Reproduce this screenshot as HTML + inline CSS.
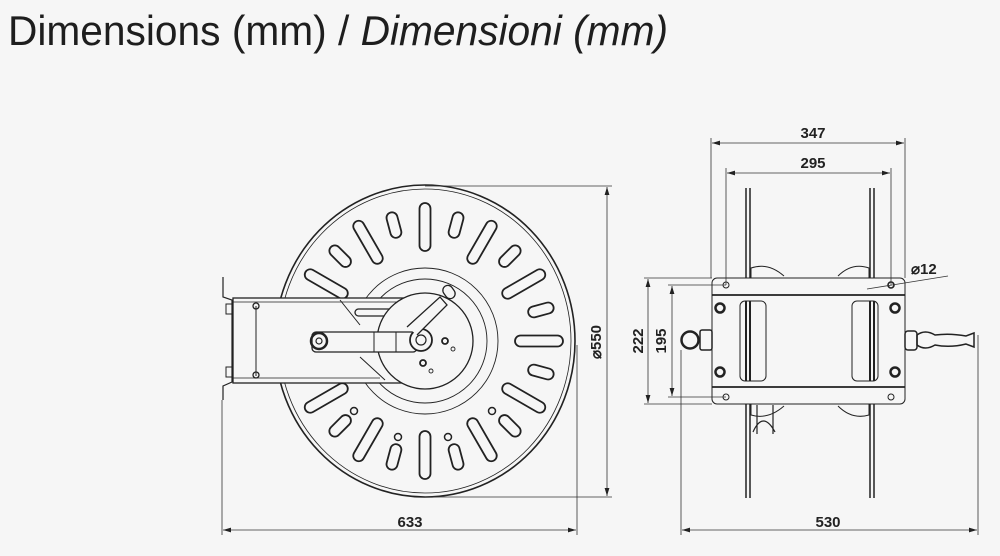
<!DOCTYPE html>
<html><head><meta charset="utf-8"><style>
html,body{margin:0;padding:0;background:#f6f6f6;}
svg{display:block;}
</style></head><body>
<svg width="1000" height="556" viewBox="0 0 1000 556" xmlns="http://www.w3.org/2000/svg">
<rect width="1000" height="556" fill="#f6f6f6"/>
<text x="8" y="45" font-family="Liberation Sans, sans-serif" font-size="42" fill="#1e1e1e" textLength="660" lengthAdjust="spacingAndGlyphs">Dimensions (mm) / <tspan font-style="italic">Dimensioni (mm)</tspan></text>

<defs>
<marker id="ar" viewBox="0 0 10 6" refX="10" refY="3" markerWidth="8" markerHeight="5" orient="auto-start-reverse" markerUnits="userSpaceOnUse"><path d="M0,0 L10,3 L0,6 z" fill="#222"/></marker>
<rect id="L" x="419.5" y="203" width="11" height="48" rx="5.5"/>
<rect id="S" x="419.5" y="208" width="11" height="26" rx="5.5"/>
</defs>

<!-- LEFT VIEW -->
<g stroke="#222" fill="none">
<ellipse cx="425" cy="341" rx="150" ry="156" stroke-width="1.6"/>
<ellipse cx="425" cy="341" rx="146" ry="152" stroke-width="0.8"/>
<g stroke-width="1.8" fill="#f6f6f6">
<use href="#L" transform="rotate(0 425 341)"/>
<use href="#S" transform="rotate(15 425 341)"/>
<use href="#L" transform="rotate(30 425 341)"/>
<use href="#S" transform="rotate(45 425 341)"/>
<use href="#L" transform="rotate(60 425 341)"/>
<use href="#S" transform="rotate(75 425 341)"/>
<use href="#L" transform="rotate(90 425 341)"/>
<use href="#S" transform="rotate(105 425 341)"/>
<use href="#L" transform="rotate(120 425 341)"/>
<use href="#S" transform="rotate(135 425 341)"/>
<use href="#L" transform="rotate(150 425 341)"/>
<use href="#S" transform="rotate(165 425 341)"/>
<use href="#L" transform="rotate(180 425 341)"/>
<use href="#S" transform="rotate(195 425 341)"/>
<use href="#L" transform="rotate(210 425 341)"/>
<use href="#S" transform="rotate(225 425 341)"/>
<use href="#L" transform="rotate(240 425 341)"/>
<use href="#S" transform="rotate(255 425 341)"/>
<use href="#L" transform="rotate(270 425 341)"/>
<use href="#S" transform="rotate(285 425 341)"/>
<use href="#L" transform="rotate(300 425 341)"/>
<use href="#S" transform="rotate(315 425 341)"/>
<use href="#L" transform="rotate(330 425 341)"/>
<use href="#S" transform="rotate(345 425 341)"/>
</g>
<g stroke-width="1.5"><circle cx="354" cy="411" r="3.5"/><circle cx="492" cy="411" r="3.5"/><circle cx="398" cy="437" r="3.5"/><circle cx="448" cy="437" r="3.5"/></g>
<circle cx="425" cy="341" r="73" stroke-width="0.9" fill="#f6f6f6"/>
<circle cx="425" cy="341" r="62" stroke-width="0.9"/>
<!-- bracket -->
<path d="M223,277 V297 L232,300 V382 L223,386 V400" stroke-width="1.2"/>
<rect x="233" y="298" width="190" height="85" fill="#f6f6f6" stroke-width="1.3"/>
<line x1="233" y1="302" x2="410" y2="302" stroke-width="0.8"/>
<line x1="233" y1="378" x2="380" y2="378" stroke-width="0.8"/>
<line x1="256" y1="306" x2="256" y2="376" stroke-width="1"/>
<circle cx="256" cy="306" r="3" stroke-width="1.3"/><circle cx="256" cy="375" r="3" stroke-width="1.3"/>
<rect x="226" y="304" width="6" height="10" stroke-width="1"/><rect x="226" y="367" width="6" height="10" stroke-width="1"/>
<path d="M340,300 L360,325 M360,357 L385,380" stroke-width="1"/>
<rect x="355" y="309" width="55" height="7" rx="3.5" stroke-width="1.3"/>
<circle cx="425" cy="341" r="48" stroke-width="1.3" fill="#f6f6f6"/>
<rect x="312" y="332" width="105" height="20" rx="4" fill="#f6f6f6" stroke-width="1.3"/>
<line x1="374" y1="332" x2="374" y2="352" stroke-width="1"/><line x1="396" y1="332" x2="396" y2="352" stroke-width="1"/>
<circle cx="319" cy="341" r="8" stroke-width="2.5"/><circle cx="319" cy="341" r="3" stroke-width="1.2"/>
<circle cx="421" cy="340" r="11" fill="#f6f6f6" stroke-width="1.8"/><circle cx="421" cy="340" r="5" stroke-width="1.2"/>
<path d="M407,327 L440,297 L447,305 L417,335" stroke-width="1.3" fill="#f6f6f6"/>
<rect x="444" y="285" width="10" height="14" rx="5" transform="rotate(-35 449 292)" stroke-width="1.3" fill="#f6f6f6"/>
<circle cx="445" cy="341" r="3" stroke-width="1.8"/><circle cx="423" cy="363" r="3" stroke-width="1.8"/>
<circle cx="453" cy="349" r="2" stroke-width="0.9"/><circle cx="431" cy="371" r="2" stroke-width="0.9"/>
</g>
<!-- left dims -->
<g stroke="#333" stroke-width="0.8" fill="none">
<line x1="425" y1="186" x2="612" y2="186"/><line x1="425" y1="497" x2="612" y2="497"/>
<line x1="607" y1="187" x2="607" y2="496" marker-start="url(#ar)" marker-end="url(#ar)"/>
<line x1="222" y1="400" x2="222" y2="535"/><line x1="577" y1="345" x2="577" y2="535"/>
<line x1="223" y1="530" x2="576" y2="530" marker-start="url(#ar)" marker-end="url(#ar)"/>
</g>
<g font-family="Liberation Sans, sans-serif" font-weight="bold" font-size="15" fill="#222">
<text x="410" y="527" text-anchor="middle">633</text>
<text transform="translate(601 342) rotate(-90)" text-anchor="middle">⌀550</text>
</g>

<!-- RIGHT VIEW -->
<g stroke="#222" fill="none">
<path d="M746,188 V498 M750,188 V498" stroke-width="1.5"/>
<path d="M870,188 V498 M874,188 V498" stroke-width="1.5"/>
<path d="M751,278 V268 Q768,262 784,276" stroke-width="1"/>
<path d="M869,278 V268 Q852,262 838,276" stroke-width="1"/>
<path d="M751,404 V415 Q768,420 784,406" stroke-width="1"/>
<path d="M869,404 V415 Q852,420 838,406" stroke-width="1"/>
<path d="M753,432 Q763,410 775,432 M757,434 V405 M773,434 V405" stroke-width="1.2"/>
<rect x="712" y="278" width="193" height="126" rx="5" fill="#f6f6f6" stroke-width="1"/>
<line x1="712" y1="295" x2="905" y2="295" stroke-width="1.8"/>
<line x1="712" y1="387" x2="905" y2="387" stroke-width="1.8"/>
<circle cx="726" cy="285" r="3" stroke-width="1"/><circle cx="891" cy="285" r="3" stroke-width="1.6"/>
<circle cx="726" cy="397" r="3" stroke-width="1"/><circle cx="891" cy="397" r="3" stroke-width="1"/>
<g stroke-width="2.5"><circle cx="720" cy="308" r="4.5"/><circle cx="895" cy="308" r="4.5"/><circle cx="720" cy="372" r="4.5"/><circle cx="895" cy="372" r="4.5"/></g>
<rect x="740" y="301" width="26" height="80" rx="5" stroke-width="1"/>
<rect x="852" y="301" width="26" height="80" rx="5" stroke-width="1"/>
<path d="M746,301 V381 M750,301 V381 M870,301 V381 M874,301 V381" stroke-width="2"/>
<circle cx="690" cy="340" r="8.5" stroke-width="2.5"/>
<rect x="700" y="330" width="12" height="20" rx="2" stroke-width="1.5"/>
<rect x="905" y="331" width="12" height="19" rx="3" stroke-width="1.5"/>
<path d="M917,335 Q925,329 935,335 Q950,333 966,336 L974,333 V347 L966,344 Q950,348 935,345 Q925,351 917,345 Z" stroke-width="1.5"/>
</g>
<!-- right dims -->
<g stroke="#333" stroke-width="0.8" fill="none">
<line x1="711" y1="138" x2="711" y2="278"/><line x1="905" y1="138" x2="905" y2="278"/>
<line x1="712" y1="143" x2="904" y2="143" marker-start="url(#ar)" marker-end="url(#ar)"/>
<line x1="726" y1="168" x2="726" y2="285"/><line x1="891" y1="168" x2="891" y2="285"/>
<line x1="727" y1="173" x2="890" y2="173" marker-start="url(#ar)" marker-end="url(#ar)"/>
<line x1="644" y1="278" x2="712" y2="278"/><line x1="644" y1="404" x2="712" y2="404"/>
<line x1="648" y1="279" x2="648" y2="403" marker-start="url(#ar)" marker-end="url(#ar)"/>
<line x1="668" y1="285" x2="726" y2="285"/><line x1="668" y1="397" x2="726" y2="397"/>
<line x1="672" y1="286" x2="672" y2="396" marker-start="url(#ar)" marker-end="url(#ar)"/>
<line x1="681" y1="350" x2="681" y2="535"/><line x1="978" y1="335" x2="978" y2="535"/>
<line x1="682" y1="530" x2="977" y2="530" marker-start="url(#ar)" marker-end="url(#ar)"/>
<line x1="867" y1="289" x2="948" y2="276"/>
</g>
<g font-family="Liberation Sans, sans-serif" font-weight="bold" font-size="15" fill="#222">
<text x="813" y="138" text-anchor="middle">347</text>
<text x="813" y="168" text-anchor="middle">295</text>
<text x="828" y="527" text-anchor="middle">530</text>
<text transform="translate(643 341) rotate(-90)" text-anchor="middle">222</text>
<text transform="translate(666 341) rotate(-90)" text-anchor="middle">195</text>
<text x="911" y="274">⌀12</text>
</g>
</svg>
</body></html>
